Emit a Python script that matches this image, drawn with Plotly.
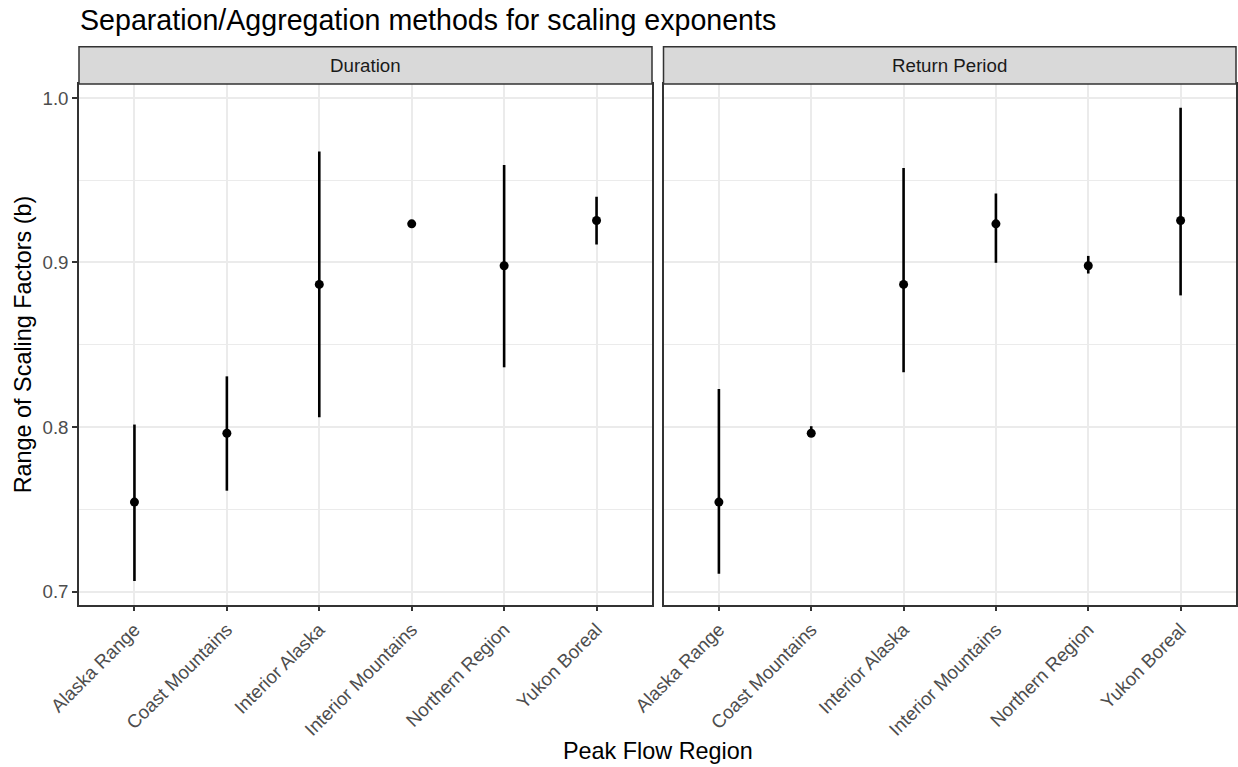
import plotly.graph_objects as go

# ---- data -------------------------------------------------------------
regions = ["Alaska Range", "Coast Mountains", "Interior Alaska",
           "Interior Mountains", "Northern Region", "Yukon Boreal"]
facets = ["Duration", "Return Period"]

# central scaling exponent per region (same in both facets)
b_mid = [0.7544, 0.7962, 0.8867, 0.9235, 0.8980, 0.9255]

# range of scaling factors, Duration method
dur_lo = [0.7064, 0.7613, 0.8060, 0.9235, 0.8363, 0.9110]
dur_hi = [0.8015, 0.8308, 0.9674, 0.9235, 0.9593, 0.9399]

# range of scaling factors, Return Period method
ret_lo = [0.7109, 0.7945, 0.8333, 0.8998, 0.8933, 0.8800]
ret_hi = [0.8231, 0.8005, 0.9575, 0.9419, 0.9040, 0.9941]

y_ticks = [0.7, 0.8, 0.9, 1.0]
y_ticktext = ["0.7", "0.8", "0.9", "1.0"]

# ---- geometry (pixels) ------------------------------------------------
W, H = 1238, 767
FONT = "Liberation Sans, Arial, sans-serif"
panel_x = [(79.0, 652.0), (663.5, 1236.0)]
panel_top, panel_bot = 84.0, 604.7
strip_top = 46.7


def px_x(p):
    return p / W


def px_y(p):
    return 1 - p / H


# y scale: continuous with 5% expansion on each side
all_lo = min(dur_lo + ret_lo)
all_hi = max(dur_hi + ret_hi)
pad = 0.05 * (all_hi - all_lo)
y_range = [all_lo - pad, all_hi + pad]
x_range = [-0.6, len(regions) - 1 + 0.6]

fig = go.Figure()

series = [(dur_lo, dur_hi), (ret_lo, ret_hi)]
for i, (lo, hi) in enumerate(series):
    up = [h - m for h, m in zip(hi, b_mid)]
    down = [m - l for m, l in zip(b_mid, lo)]
    fig.add_trace(go.Scatter(
        x=regions, y=b_mid,
        mode="markers",
        marker=dict(color="black", size=9),
        error_y=dict(type="data", symmetric=False, array=up, arrayminus=down,
                     width=0, thickness=2.6, color="black"),
        xaxis="x" if i == 0 else "x2",
        yaxis="y" if i == 0 else "y2",
        showlegend=False,
        cliponaxis=False,
    ))

grid = "#EBEBEB"
border = "#333333"
tickfont = dict(family=FONT, size=18.7, color="#4D4D4D")

common_x = dict(
    type="category", categoryorder="array", categoryarray=regions,
    range=x_range, showgrid=True, gridcolor=grid, gridwidth=1.5,
    showline=True, mirror=True, linecolor=border, linewidth=1.5,
    ticks="outside", ticklen=5, tickwidth=1.5, tickcolor=border,
    tickangle=-45, tickfont=tickfont, zeroline=False, automargin=False,
)
common_y = dict(
    range=y_range, tickvals=y_ticks, ticktext=y_ticktext,
    showgrid=True, gridcolor=grid, gridwidth=1.5,
    minor=dict(dtick=0.05, tick0=0.7, showgrid=True, gridcolor=grid,
               gridwidth=0.8, ticks=""),
    showline=True, mirror=True, linecolor=border, linewidth=1.5,
    zeroline=False, automargin=False,
    domain=[px_y(panel_bot), px_y(panel_top)],
)

fig.update_layout(
    width=W, height=H,
    margin=dict(l=0, r=0, t=0, b=0),
    paper_bgcolor="white", plot_bgcolor="white",
    font=dict(family=FONT, color="black"),
    xaxis=dict(common_x, domain=[px_x(panel_x[0][0]), px_x(panel_x[0][1])],
               anchor="y"),
    xaxis2=dict(common_x, domain=[px_x(panel_x[1][0]), px_x(panel_x[1][1])],
                anchor="y2"),
    yaxis=dict(common_y, anchor="x", ticks="outside", ticklen=5,
               tickwidth=1.5, tickcolor=border, tickfont=tickfont),
    yaxis2=dict(common_y, anchor="x2", matches="y", showticklabels=False,
                ticks=""),
)

shapes = []
annotations = []
for (x0, x1), name in zip(panel_x, facets):
    shapes.append(dict(
        type="rect", xref="paper", yref="paper",
        x0=px_x(x0), x1=px_x(x1), y0=px_y(panel_top), y1=px_y(strip_top),
        fillcolor="#D9D9D9", line=dict(color=border, width=1.5),
    ))
    annotations.append(dict(
        text=name, xref="paper", yref="paper",
        x=px_x((x0 + x1) / 2), y=px_y((strip_top + panel_top) / 2),
        xanchor="center", yanchor="middle", showarrow=False,
        font=dict(family=FONT, size=18.7, color="#1A1A1A"),
    ))

# plot title
annotations.append(dict(
    text="Separation/Aggregation methods for scaling exponents",
    xref="paper", yref="paper", x=px_x(78), y=px_y(20),
    xanchor="left", yanchor="middle", showarrow=False,
    font=dict(family=FONT, size=28.6, color="black"),
))
# axis titles
annotations.append(dict(
    text="Peak Flow Region", xref="paper", yref="paper",
    x=px_x((panel_x[0][0] + panel_x[1][1]) / 2), y=px_y(751),
    xanchor="center", yanchor="middle", showarrow=False,
    font=dict(family=FONT, size=23.4, color="black"),
))
annotations.append(dict(
    text="Range of Scaling Factors (b)", xref="paper", yref="paper",
    x=px_x(23), y=px_y((panel_top + panel_bot) / 2),
    xanchor="center", yanchor="middle", textangle=-90, showarrow=False,
    font=dict(family=FONT, size=23.4, color="black"),
))

fig.update_layout(shapes=shapes, annotations=annotations)

fig.write_html("out.html")
